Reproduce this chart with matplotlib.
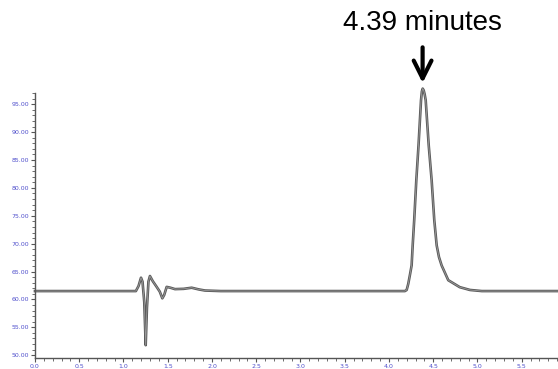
import numpy as np
import matplotlib.pyplot as plt
from matplotlib.ticker import MultipleLocator, FormatStrFormatter

# chromatogram trace (time in minutes, signal)
time = [0.00, 1.14, 1.17, 1.198, 1.215, 1.235, 1.251, 1.265, 1.282, 1.299,
        1.33, 1.375, 1.41, 1.439, 1.46, 1.488, 1.53, 1.582, 1.68, 1.77,
        1.85, 1.92, 2.10, 4.18, 4.20, 4.218, 4.238, 4.256, 4.268, 4.285,
        4.309, 4.334, 4.362, 4.372, 4.381, 4.392, 4.403, 4.415, 4.449, 4.482,
        4.512, 4.539, 4.565, 4.595, 4.67, 4.80, 4.915, 5.05, 5.91]
signal = [61.5, 61.5, 62.4, 63.9, 63.2, 59.5, 51.8, 58.5, 63.2, 64.2,
          63.3, 62.25, 61.4, 60.2, 60.8, 62.25, 62.1, 61.85, 61.9, 62.1,
          61.8, 61.6, 61.5, 61.5, 61.7, 62.8, 64.5, 66.1, 69.7, 74.2,
          81.4, 87.65, 95.7, 97.3, 97.8, 97.5, 96.8, 95.7, 87.65, 81.4,
          74.2, 69.7, 67.6, 66.1, 63.45, 62.2, 61.7, 61.5, 61.5]

peak_time = 4.38
peak_label = "4.39 minutes"

fig = plt.figure(figsize=(5.58, 3.69), dpi=100)
ax = fig.add_axes([0.0627, 0.0298, 0.9373, 0.718])

ax.plot(time, signal, color="#5a5a5a", lw=1.9, clip_on=False)
ax.plot(time, signal, color="#9a9a9a", lw=0.6, clip_on=False)

ax.set_xlim(0, 5.91)
ax.set_ylim(49.5, 97)

ax.spines["top"].set_visible(False)
ax.spines["right"].set_visible(False)
for s in ["left", "bottom"]:
    ax.spines[s].set_color("#555555")
    ax.spines[s].set_linewidth(1.0)

ax.xaxis.set_major_locator(MultipleLocator(0.5))
ax.xaxis.set_minor_locator(MultipleLocator(0.1))
ax.yaxis.set_major_locator(MultipleLocator(5))
ax.yaxis.set_minor_locator(MultipleLocator(1))
ax.xaxis.set_major_formatter(FormatStrFormatter("%.1f"))
ax.yaxis.set_major_formatter(FormatStrFormatter("%.2f"))

ax.tick_params(which="major", length=3, width=0.8, color="#555555",
               labelsize=4.5, labelcolor="#5050cc", pad=1)
ax.tick_params(which="minor", length=2, width=0.6, color="#555555")

# peak marker
ax.annotate("", xy=(peak_time, 98.8), xytext=(peak_time, 105.2),
            arrowprops=dict(arrowstyle="->", lw=3.0, color="black",
                            mutation_scale=32, shrinkA=0, shrinkB=0),
            annotation_clip=False)
ax.text(peak_time, 109.6, peak_label, ha="center", va="center",
        fontsize=20, family="Liberation Sans", clip_on=False)

fig.savefig("out.png", dpi=100)
